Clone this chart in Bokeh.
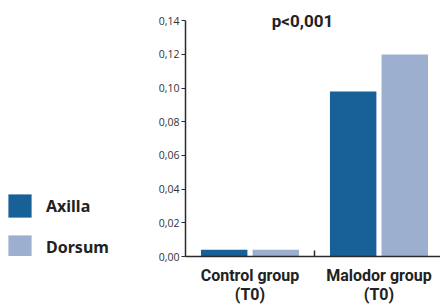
from bokeh.plotting import figure
from bokeh.layouts import row
from bokeh.models import Range1d, FixedTicker, Label, Legend, LegendItem, ColumnDataSource
from bokeh.transform import dodge
from bokeh.embed import file_html
from bokeh.resources import INLINE

groups = ["Control group\n(T0)", "Malodor group\n(T0)"]
series = ["Axilla", "Dorsum"]
axilla = [0.004, 0.098]
dorsum = [0.004, 0.120]
y_ticks = [0.00, 0.02, 0.04, 0.06, 0.08, 0.10, 0.12, 0.14]
y_tick_labels = ["0,00", "0,02", "0,04", "0,06", "0,08", "0,10", "0,12", "0,14"]
p_text = "p<0,001"

AX_COLOR = "#176098"
DO_COLOR = "#9dafcf"
AXIS_COLOR = "#2b2b2b"

x_pos = [i + 0.5 for i in range(len(groups))]
boundaries = [float(i) for i in range(1, len(groups))]
src = ColumnDataSource(dict(x=x_pos, axilla=axilla, dorsum=dorsum))

# ---- main chart ----
p = figure(width=285, height=307, output_backend="svg", toolbar_location=None,
           x_range=Range1d(0, 1.977), y_range=Range1d(0, 0.152),
           min_border_left=28, min_border_right=0, min_border_top=0, min_border_bottom=10)
p.outline_line_color = None
p.grid.visible = False

r1 = p.vbar(x=dodge("x", -0.2), top="axilla", width=0.36, source=src,
            fill_color=AX_COLOR, line_color=None)
r2 = p.vbar(x=dodge("x", 0.2), top="dorsum", width=0.36, source=src,
            fill_color=DO_COLOR, line_color=None)

xa = p.xaxis[0]
xa.ticker = FixedTicker(ticks=x_pos, minor_ticks=boundaries)
xa.major_label_overrides = {x: g for x, g in zip(x_pos, groups)}
xa.major_tick_in = 0
xa.major_tick_out = 0
xa.minor_tick_in = 6
xa.minor_tick_out = 0
xa.minor_tick_line_color = AXIS_COLOR
xa.minor_tick_line_width = 1.5
xa.axis_line_color = AXIS_COLOR
xa.axis_line_width = 1.5
xa.major_label_text_font = "Roboto"
xa.major_label_text_font_style = "bold"
xa.major_label_text_font_size = "16px"
xa.major_label_text_color = "#222222"
xa.major_label_text_line_height = 1.05
xa.major_label_standoff = 9

ya = p.yaxis[0]
ya.ticker = FixedTicker(ticks=y_ticks)
ya.bounds = (y_ticks[0], y_ticks[-1])
ya.major_label_overrides = {t: l for t, l in zip(y_ticks, y_tick_labels)}
ya.major_tick_in = 0
ya.major_tick_out = 4
ya.minor_tick_line_color = None
ya.major_tick_line_color = AXIS_COLOR
ya.major_tick_line_width = 1.2
ya.axis_line_color = AXIS_COLOR
ya.axis_line_width = 1.5
ya.major_label_text_font = "Open Sans"
ya.major_label_text_font_size = "10.5px"
ya.major_label_text_color = "#333333"
ya.major_label_standoff = 2

lab = Label(x=boundaries[0], y=y_ticks[-1], text=p_text, text_align="center",
            text_baseline="middle", x_offset=-12,
            text_font="Roboto", text_font_style="bold",
            text_font_size="17px", text_color="#222222")
p.add_layout(lab)

# ---- legend panel ----
lg = figure(width=155, height=307, output_backend="svg", toolbar_location=None,
            x_range=Range1d(0, 1), y_range=Range1d(0, 1),
            x_axis_location=None, y_axis_location=None,
            min_border_left=0, min_border_right=0, min_border_top=0, min_border_bottom=0)
lg.outline_line_color = None
lg.grid.visible = False
# hidden proxy renderers that only supply the legend swatches
l1 = lg.vbar(x="x", top="axilla", width=0.1, source=src, fill_color=AX_COLOR,
             line_color=None, visible=False)
l2 = lg.vbar(x="x", top="dorsum", width=0.1, source=src, fill_color=DO_COLOR,
             line_color=None, visible=False)

legend = Legend(items=[LegendItem(label=series[0], renderers=[l1]),
                       LegendItem(label=series[1], renderers=[l2])],
                location=(5, -5), glyph_width=29, glyph_height=29,
                label_standoff=12, spacing=12, padding=0, margin=0,
                border_line_color=None, background_fill_alpha=0,
                label_text_font="Noto Sans", label_text_font_style="bold",
                label_text_font_size="16px", label_text_color="#222222")
lg.add_layout(legend)

layout = row(lg, p)
open("out.html", "w").write(file_html(layout, INLINE))
